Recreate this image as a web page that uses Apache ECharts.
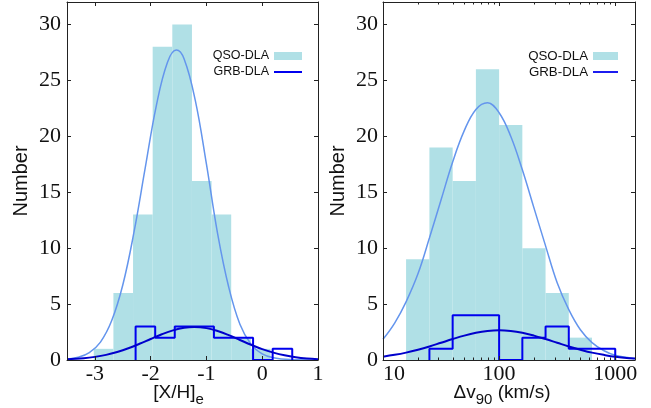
<!DOCTYPE html>
<html>
<head>
<meta charset="utf-8">
<script src="https://cdn.jsdelivr.net/npm/echarts@6/dist/echarts.min.js"></script>
<style>
html,body{margin:0;padding:0;background:#fff;}
#chart{width:651px;height:408px;}
</style>
</head>
<body>
<div id="chart"></div>
<script>
// ---------- tick values ----------
const numberTicks = [0, 5, 10, 15, 20, 25, 30];
const xhTicks = [-3, -2, -1, 0, 1];
const dvTicks = [10, 100, 1000];
const dvMinorTicks = [20, 30, 40, 50, 60, 70, 80, 90, 200, 300, 400, 500, 600, 700, 800, 900];

// ---------- left panel: [X/H]e ----------
const xhQsoEdges = [-3.02, -2.668, -2.316, -1.964, -1.612, -1.26, -0.908, -0.556, -0.204, 0.148];
const xhQsoCounts = [1, 6, 13, 28, 30, 16, 13, 2, 1];
const xhGrbEdges = [-2.27, -1.919, -1.568, -1.217, -0.866, -0.515, -0.164, 0.187, 0.538];
const xhGrbCounts = [3, 2, 3, 3, 2, 2, 0, 1];
const xhFitX = [-3.5, -3.3, -3.1, -2.9, -2.7, -2.5, -2.3, -2.1, -1.9, -1.7, -1.54, -1.4, -1.2, -1.0, -0.8, -0.6, -0.4, -0.2, 0, 0.2, 0.5, 1.0];
const xhQsoFit = [0.075, 0.24, 0.66, 1.6, 3.5, 6.7, 11.4, 17.1, 22.7, 26.6, 27.7, 26.9, 23.2, 17.5, 11.3, 6.5, 3.2, 1.4, 0.55, 0.2, 0.04, 0.0];
const xhGrbFitX = [-3.5, -3.2, -3.0, -2.8, -2.6, -2.4, -2.2, -2.0, -1.8, -1.6, -1.4, -1.22, -1.0, -0.8, -0.6, -0.4, -0.2, 0.0, 0.2, 0.4, 0.6, 0.8, 1.0];
const xhGrbFit = [0.06, 0.16, 0.28, 0.46, 0.72, 1.05, 1.45, 1.88, 2.3, 2.65, 2.88, 2.95, 2.85, 2.59, 2.22, 1.79, 1.36, 0.97, 0.66, 0.42, 0.25, 0.14, 0.076];

// ---------- right panel: Δv90 ----------
const dvQsoEdges = [15.8, 25.1, 39.8, 63.1, 100, 158.5, 251.2, 398.1, 631];
const dvQsoCounts = [9, 19, 16, 26, 21, 10, 6, 2];
const dvGrbEdges = [25.1, 39.8, 63.1, 100, 158.5, 251.2, 398.1, 631, 1000];
const dvGrbCounts = [1, 4, 4, 0, 2, 3, 1, 1];
const dvFitX = [10, 12.6, 15.8, 20, 25.1, 31.6, 39.8, 50.1, 63.1, 79.4, 100, 125.9, 158.5, 199.5, 251.2, 316.2, 398.1, 501.2, 631, 794.3, 1000, 1480];
const dvQsoFit = [1.85, 3.3, 5.2, 7.7, 10.9, 14.3, 17.7, 20.5, 22.4, 23.0, 22.1, 20.0, 17.0, 13.6, 10.2, 6.9, 4.5, 2.7, 1.55, 0.85, 0.42, 0.12];
const dvGrbFit = [0.3, 0.46, 0.66, 0.92, 1.21, 1.54, 1.87, 2.18, 2.43, 2.59, 2.65, 2.59, 2.43, 2.18, 1.87, 1.54, 1.21, 0.92, 0.66, 0.46, 0.3, 0.135];

// ---------- styling ----------
const QSO_FILL = '#b0e0e6';
const QSO_FIT = '#6495ed';
const GRB = '#0000ee';
const AXIS = '#222';
const SERIF = '"Liberation Serif", "Times New Roman", serif';
const SANS = '"Liberation Sans", Arial, sans-serif';
const LINE_ICON = 'path://M0,0 L28,0 L28,2 L0,2 Z';

function barData(edges, counts) {
  return counts.map((c, i) => [edges[i], edges[i + 1], c]);
}
function outline(edges, counts) {
  const pts = [[edges[0], 0]];
  counts.forEach((c, i) => { pts.push([edges[i], c]); pts.push([edges[i + 1], c]); });
  pts.push([edges[edges.length - 1], 0]);
  return pts;
}
function zip(xs, ys) { return xs.map((x, i) => [x, ys[i]]); }

function renderBar(color) {
  return function (params, api) {
    const p0 = api.coord([api.value(0), 0]);
    const p1 = api.coord([api.value(1), api.value(2)]);
    return {
      type: 'rect',
      shape: { x: p0[0], y: p1[1], width: p1[0] - p0[0], height: p0[1] - p1[1] },
      style: { fill: color }
    };
  };
}
function renderMinor(params, api) {
  const cs = params.coordSys;
  const x = Math.round(api.coord([api.value(0), 0])[0]) + 0.5;
  return {
    type: 'group',
    children: [
      { type: 'line', shape: { x1: x, y1: cs.y + cs.height, x2: x, y2: cs.y + cs.height - 2.5 }, style: { stroke: AXIS, lineWidth: 1 } },
      { type: 'line', shape: { x1: x, y1: cs.y, x2: x, y2: cs.y + 2.5 }, style: { stroke: AXIS, lineWidth: 1 } }
    ]
  };
}

const nameRich = {
  a: { fontFamily: SANS, fontSize: 19, color: '#111', lineHeight: 20, verticalAlign: 'middle' },
  s: { fontFamily: SANS, fontSize: 15, color: '#111', lineHeight: 15, padding: [14, 0, 0, 0], verticalAlign: 'middle' }
};

const yBase = {
  type: 'value', min: 0, max: 32, z: 5,
  axisLine: { show: true, onZero: false, lineStyle: { color: AXIS, width: 1 } },
  axisTick: { show: true, inside: true, length: 4, customValues: numberTicks, lineStyle: { color: AXIS } },
  splitLine: { show: false }
};

const chart = echarts.init(document.getElementById('chart'), null, { renderer: 'canvas' });
chart.setOption({
  animation: false,
  backgroundColor: '#fff',
  grid: [
    { left: 67, top: 2, width: 251, height: 358, containLabel: false, outerBoundsMode: 'none' },
    { left: 383, top: 2, width: 252, height: 358, containLabel: false, outerBoundsMode: 'none' }
  ],
  xAxis: [
    {
      gridIndex: 0, type: 'value', min: -3.5, max: 1, z: 5,
      axisLine: { show: true, onZero: false, lineStyle: { color: AXIS } },
      axisTick: { show: true, inside: true, length: 4, customValues: xhTicks, lineStyle: { color: AXIS } },
      axisLabel: { customValues: xhTicks, fontFamily: SERIF, fontSize: 22, color: '#111', margin: 3 },
      splitLine: { show: false },
      name: '{a|[X/H]}{s|e}', nameLocation: 'middle', nameGap: 23, nameMoveOverlap: false,
      nameTextStyle: { fontFamily: SANS, fontSize: 19, color: '#111', padding: [0, 28, 0, 0], rich: nameRich }
    },
    {
      gridIndex: 0, type: 'value', min: -3.5, max: 1, position: 'top', z: 5,
      axisLine: { show: true, onZero: false, lineStyle: { color: AXIS } },
      axisTick: { show: true, inside: true, length: 4, customValues: xhTicks, lineStyle: { color: AXIS } },
      axisLabel: { show: false }, splitLine: { show: false }
    },
    {
      gridIndex: 1, type: 'log', logBase: 10, min: 10, max: 1480, z: 5,
      axisLine: { show: true, onZero: false, lineStyle: { color: AXIS } },
      axisTick: { show: true, inside: true, length: 4, customValues: dvTicks, lineStyle: { color: AXIS } },
      axisLabel: { customValues: dvTicks, fontFamily: SERIF, fontSize: 22, color: '#111', margin: 3,
        alignMinLabel: 'left', formatter: v => String(Math.round(v)) },
      splitLine: { show: false },
      name: '{a|Δv}{s|90}{a| (km/s)}', nameLocation: 'middle', nameGap: 23, nameMoveOverlap: false,
      nameTextStyle: { fontFamily: SANS, fontSize: 19, color: '#111', padding: [0, 14, 0, 0], rich: nameRich }
    },
    {
      gridIndex: 1, type: 'log', logBase: 10, min: 10, max: 1480, position: 'top', z: 5,
      axisLine: { show: true, onZero: false, lineStyle: { color: AXIS } },
      axisTick: { show: true, inside: true, length: 4, customValues: dvTicks, lineStyle: { color: AXIS } },
      axisLabel: { show: false }, splitLine: { show: false }
    }
  ],
  yAxis: [
    Object.assign({}, yBase, {
      gridIndex: 0, position: 'left',
      axisLabel: { customValues: numberTicks, fontFamily: SERIF, fontSize: 22, color: '#111', margin: 6 },
      name: 'Number', nameLocation: 'middle', nameGap: 36, nameRotate: 90, nameMoveOverlap: false,
      nameTextStyle: { fontFamily: SANS, fontSize: 20, color: '#111' }
    }),
    Object.assign({}, yBase, { gridIndex: 0, position: 'right', axisLabel: { show: false } }),
    Object.assign({}, yBase, {
      gridIndex: 1, position: 'left',
      axisLabel: { customValues: numberTicks, fontFamily: SERIF, fontSize: 22, color: '#111', margin: 5 },
      name: 'Number', nameLocation: 'middle', nameGap: 35, nameRotate: 90, nameMoveOverlap: false,
      nameTextStyle: { fontFamily: SANS, fontSize: 20, color: '#111' }
    }),
    Object.assign({}, yBase, { gridIndex: 1, position: 'right', axisLabel: { show: false } })
  ],
  legend: [
    {
      orient: 'vertical', align: 'right', right: 344, top: 44,
      itemWidth: 28, itemHeight: 8, itemGap: 2,
      textStyle: { fontFamily: SANS, fontSize: 12.5, color: '#111', lineHeight: 14 },
      data: [{ name: 'QSO-DLA', icon: 'rect' }, { name: 'GRB-DLA', icon: LINE_ICON }]
    },
    {
      orient: 'vertical', align: 'right', right: 28, top: 44,
      itemWidth: 25, itemHeight: 8, itemGap: 2,
      textStyle: { fontFamily: SANS, fontSize: 13.3, color: '#111', lineHeight: 14 },
      data: [{ name: 'QSO-DLA', icon: 'rect' }, { name: 'GRB-DLA', icon: LINE_ICON }]
    }
  ],
  series: [
    // left panel
    { name: 'QSO-DLA', type: 'custom', xAxisIndex: 0, yAxisIndex: 0, renderItem: renderBar(QSO_FILL),
      itemStyle: { color: QSO_FILL }, encode: { x: [0, 1], y: 2 }, data: barData(xhQsoEdges, xhQsoCounts), z: 1 },
    { name: 'QSO fit', type: 'line', xAxisIndex: 0, yAxisIndex: 0, smooth: 0.4, symbol: 'none',
      lineStyle: { color: QSO_FIT, width: 1.5 }, data: zip(xhFitX, xhQsoFit), z: 2 },
    { name: 'GRB-DLA', type: 'line', xAxisIndex: 0, yAxisIndex: 0, symbol: 'none', color: GRB,
      itemStyle: { color: GRB }, lineStyle: { color: GRB, width: 2 }, data: outline(xhGrbEdges, xhGrbCounts), z: 3 },
    { name: 'GRB fit', type: 'line', xAxisIndex: 0, yAxisIndex: 0, smooth: 0.4, symbol: 'none',
      lineStyle: { color: '#0000cc', width: 2 }, data: zip(xhGrbFitX, xhGrbFit), z: 3 },
    // right panel
    { name: 'QSO-DLA', type: 'custom', xAxisIndex: 2, yAxisIndex: 2, renderItem: renderBar(QSO_FILL),
      itemStyle: { color: QSO_FILL }, encode: { x: [0, 1], y: 2 }, data: barData(dvQsoEdges, dvQsoCounts), z: 1 },
    { name: 'QSO fit', type: 'line', xAxisIndex: 2, yAxisIndex: 2, smooth: 0.4, symbol: 'none',
      lineStyle: { color: QSO_FIT, width: 1.5 }, data: zip(dvFitX, dvQsoFit), z: 2 },
    { name: 'GRB-DLA', type: 'line', xAxisIndex: 2, yAxisIndex: 2, symbol: 'none', color: GRB,
      itemStyle: { color: GRB }, lineStyle: { color: GRB, width: 2 }, data: outline(dvGrbEdges, dvGrbCounts), z: 3 },
    { name: 'GRB fit', type: 'line', xAxisIndex: 2, yAxisIndex: 2, smooth: 0.4, symbol: 'none',
      lineStyle: { color: '#0000cc', width: 2 }, data: zip(dvFitX, dvGrbFit), z: 3 },
    { name: 'minor', type: 'custom', xAxisIndex: 2, yAxisIndex: 2, renderItem: renderMinor,
      encode: { x: 0 }, data: dvMinorTicks.map(v => [v]), z: 6, silent: true }
  ]
});
</script>
</body>
</html>
